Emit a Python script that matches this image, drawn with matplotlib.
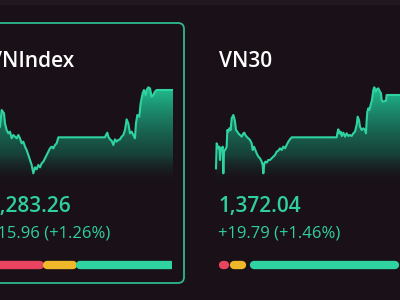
import matplotlib
matplotlib.use("Agg")
from matplotlib import pyplot as plt
from matplotlib.patches import FancyBboxPatch
from matplotlib.colors import LinearSegmentedColormap
import numpy as np

plt.rcParams['font.family'] = ['Open Sans', 'DejaVu Sans']

# Dữ liệu --------------------------------------------------------------
vni_name = "VNIndex"
vni_close = "1,283.26"
vni_change = "+15.96 (+1.26%)"
vni_t = [0, 5, 12, 15, 20, 25, 30, 35, 40, 45, 50, 55, 60, 65, 70, 75, 80, 85, 90,
         95, 100, 105, 110, 115, 120, 125, 130, 135, 140, 145, 150, 155, 160, 165,
         170, 175, 315, 318, 322, 325, 330, 335, 340, 345, 350, 355, 360, 365, 370,
         375, 380, 385, 390, 395, 400, 405, 408, 412, 418, 422, 428, 432, 437, 440,
         445, 450, 455, 460, 465, 470, 520]
vni_val = [160, 210, 200, 170, 150, 140, 145, 125, 135, 130, 125, 135, 125, 110, 115,
           100, 90, 75, 60, 45, 20, 38, 32, 45, 38, 50, 55, 65, 75, 85, 95, 100, 95,
           105, 110, 128, 128, 135, 142, 130, 122, 118, 105, 122, 115, 120, 122, 130,
           135, 150, 182, 170, 140, 145, 135, 125, 170, 195, 190, 230, 260, 270, 255,
           270, 278, 275, 250, 255, 265, 270, 270]

vn30_name = "VN30"
vn30_close = "1,372.04"
vn30_change = "+19.79 (+1.46%)"
vn30_t = [18, 20, 25, 28, 30, 32, 35, 38, 40, 42, 45, 48, 50, 52, 55, 58, 62, 65, 70,
          73, 75, 78, 82, 85, 90, 95, 100, 103, 106, 110, 115, 120, 125, 128, 132,
          136, 140, 145, 150, 155, 158, 160, 163, 166, 170, 175, 180, 185, 190, 195,
          200, 205, 210, 215, 220, 225, 230, 235, 240, 245, 380, 382, 385, 388, 392,
          395, 400, 405, 410, 415, 420, 425, 430, 435, 440, 443, 447, 450, 455, 460,
          465, 468, 470, 472, 475, 478, 482, 486, 490, 493, 497, 500, 505, 510, 513,
          515, 518, 525, 528, 530, 570]
vn30_val = [35, 110, 95, 100, 60, 95, 90, 100, 20, 85, 90, 95, 100, 150, 145, 155,
            150, 185, 195, 185, 175, 150, 145, 140, 135, 130, 140, 142, 135, 130, 125,
            120, 110, 90, 100, 90, 80, 70, 65, 55, 45, 20, 50, 55, 52, 60, 60, 65, 70,
            75, 85, 88, 95, 90, 100, 95, 105, 115, 122, 128, 128, 140, 152, 140, 145,
            132, 142, 130, 140, 132, 135, 132, 140, 145, 165, 190, 180, 160, 150, 155,
            150, 140, 180, 205, 215, 210, 225, 240, 270, 278, 265, 272, 275, 265, 260,
            240, 235, 237, 238, 255, 255]

# giảm / đứng giá / tăng
vni_breadth = [121, 63, 216]
vn30_breadth = [2, 1, 27]

# Màu -------------------------------------------------------------------
BG = '#1a1118'
GREEN = '#2fd3a1'
TXT_GREEN = '#2fcf9f'
RED = '#e8445f'
YELLOW = '#efb82a'
BORDER = '#2fb890'

W, H = 400, 300
fig = plt.figure(figsize=(4, 3), dpi=100, facecolor=BG)
bg = fig.add_axes([0, 0, 1, 1])
bg.set_xlim(0, W)
bg.set_ylim(H, 0)
bg.axis('off')
bg.set_facecolor(BG)

# dải trên cùng
bg.axhspan(0, 4, color='#221920', zorder=0)

# khung thẻ VNIndex
card = FancyBboxPatch((-30, 23), 214, 260, boxstyle='round,pad=0,rounding_size=6',
                      fc='none', ec=BORDER, lw=1.3, zorder=3)
bg.add_patch(card)


def px_axes(x0, y0, x1, y1):
    # tạo axes theo toạ độ pixel (gốc trên-trái)
    ax = fig.add_axes([x0 / W, 1 - y1 / H, (x1 - x0) / W, (y1 - y0) / H])
    ax.axis('off')
    ax.patch.set_alpha(0)
    return ax


grad_cmap = LinearSegmentedColormap.from_list(
    'g', [(0.0, (0.10, 0.07, 0.09, 0.0)), (0.3, (0.08, 0.45, 0.36, 0.5)),
          (1.0, (0.13, 0.78, 0.59, 1.0))])


def sparkline(ax, t, v, xmax):
    ax.set_xlim(0, xmax)
    ax.set_ylim(-30, 300)
    ax.plot(t, v, color=GREEN, lw=1.5, zorder=3, solid_joinstyle='round')
    poly = ax.fill_between(t, v, -30, color='none', lw=0)
    grad = np.linspace(0, 1, 256).reshape(-1, 1)
    im = ax.imshow(grad, cmap=grad_cmap, aspect='auto', origin='lower',
                   extent=[0, xmax, -15, 285], zorder=2)
    im.set_clip_path(poly.get_paths()[0], transform=ax.transData)


def breadth_bar(ax, counts, gap):
    colors = [RED, YELLOW, GREEN]
    total = sum(counts)
    ax.set_xlim(0, total + 2 * gap)
    ax.set_ylim(-1, 1)
    left = 0
    lw = 6
    cap = 1.2
    for c, col in zip(counts, colors):
        ax.hlines(0, left + cap, left + c - cap, color=col, lw=lw, capstyle='round')
        left += c + gap


big = dict(fontsize=15, fontweight='semibold', va='baseline', ha='left')
small = dict(fontsize=12, va='baseline', ha='left')

# VNIndex
ax1 = px_axes(0, 80, 173.3, 190)
sparkline(ax1, vni_t, vni_val, 520)
bg.text(-11, 67, vni_name, color='white', **big)
bg.text(-12, 212, vni_close, color=TXT_GREEN, **big)
bg.text(-12, 238, vni_change, color=TXT_GREEN, **small)
bar1 = px_axes(-12, 258, 172, 272)
breadth_bar(bar1, vni_breadth, 14)

# VN30
ax2 = px_axes(210, 80, 400, 190)
sparkline(ax2, vn30_t, vn30_val, 570)
bg.text(219, 67, vn30_name, color='white', **big)
bg.text(218, 212, vn30_close, color=TXT_GREEN, **big)
bg.text(218, 238, vn30_change, color=TXT_GREEN, **small)
bar2 = px_axes(218, 258, 402, 272)
breadth_bar(bar2, vn30_breadth, 1.05)

fig.savefig('out.png', dpi=100, facecolor=BG)
